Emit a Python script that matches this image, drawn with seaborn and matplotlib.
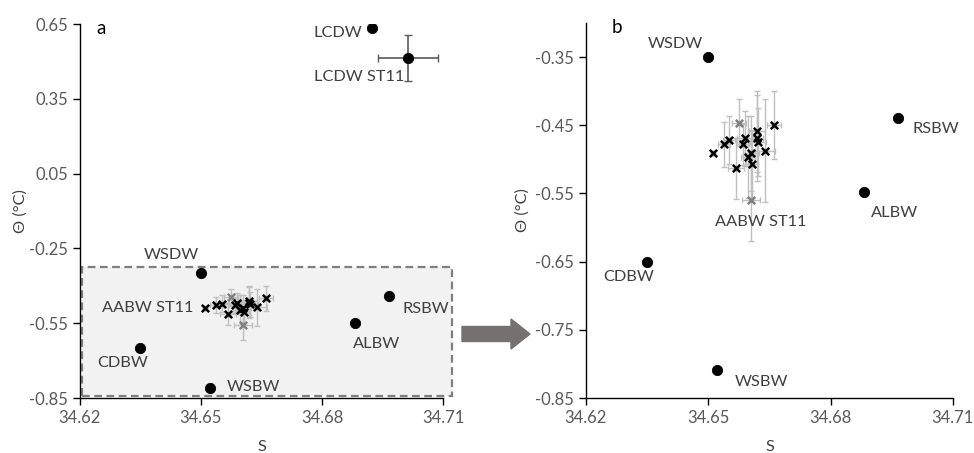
import numpy as np
import pandas as pd
import matplotlib
matplotlib.use('Agg')
import matplotlib.pyplot as plt
from matplotlib.patches import Rectangle, FancyArrow
import seaborn as sns

# water masses (black dots)
mass_names = ['LCDW', 'WSDW', 'RSBW', 'ALBW', 'CDBW', 'WSBW']
mass_s = [34.6924, 34.6500, 34.6966, 34.6882, 34.6350, 34.6522]
mass_t = [0.635, -0.350, -0.439, -0.548, -0.651, -0.809]

# LCDW at ST11, with error bars
lcdw11_s = [34.7013]
lcdw11_t = [0.514]
lcdw11_serr = [0.0074]
lcdw11_terr = [0.091]

# AABW samples (black crosses)
aabw_s = [34.6511, 34.6538, 34.6551, 34.6568, 34.6585, 34.6590, 34.6597,
          34.6605, 34.6607, 34.6619, 34.6619, 34.6622, 34.6639, 34.6661]
aabw_t = [-0.491, -0.478, -0.472, -0.513, -0.478, -0.469, -0.497,
          -0.491, -0.507, -0.459, -0.468, -0.474, -0.487, -0.450]
aabw_serr = [0.0, 0.0015, 0.0015, 0.0020, 0.0015, 0.0020, 0.0018,
             0.0020, 0.0015, 0.0020, 0.0015, 0.0020, 0.0025, 0.0017]
aabw_terr = [0.0, 0.033, 0.035, 0.045, 0.030, 0.040, 0.060,
             0.055, 0.050, 0.060, 0.063, 0.050, 0.076, 0.050]

# AABW at ST11 (grey crosses)
st11_s = [34.6575, 34.6605]
st11_t = [-0.446, -0.559]
st11_serr = [0.0018, 0.0022]
st11_terr = [0.034, 0.060]

x_ticks = [34.62, 34.65, 34.68, 34.71]
y_ticks_a = [0.65, 0.35, 0.05, -0.25, -0.55, -0.85]
y_ticks_b = [-0.35, -0.45, -0.55, -0.65, -0.75, -0.85]

sns.set_style('ticks')
plt.rcParams['font.family'] = ['Lato', 'DejaVu Sans']
plt.rcParams['axes.unicode_minus'] = False

LABEL_C = '#404040'
TICK_C = '#595959'
ERR_C = '#bfbfbf'
FS = 11.8

fig = plt.figure(figsize=(9.74, 4.53), dpi=100)
ax_a = fig.add_axes([0.0821, 0.1214, 0.3727, 0.8256])
ax_b = fig.add_axes([0.6016, 0.1214, 0.3768, 0.8278])


def draw_points(ax):
    # 误差线
    ax.errorbar(aabw_s, aabw_t, xerr=aabw_serr, yerr=aabw_terr, fmt='none',
                ecolor=ERR_C, elinewidth=1, capsize=2.5, zorder=1)
    ax.errorbar(st11_s, st11_t, xerr=st11_serr, yerr=st11_terr, fmt='none',
                ecolor=ERR_C, elinewidth=1, capsize=2.5, zorder=1)
    ax.errorbar(lcdw11_s, lcdw11_t, xerr=lcdw11_serr, yerr=lcdw11_terr, fmt='none',
                ecolor='#595959', elinewidth=1.2, capsize=3, zorder=1)
    sns.scatterplot(x=st11_s, y=st11_t, marker='x', color='#808080', s=28,
                    linewidth=1.8, ax=ax, zorder=3)
    sns.scatterplot(x=aabw_s, y=aabw_t, marker='x', color='black', s=28,
                    linewidth=1.8, ax=ax, zorder=4)
    sns.scatterplot(x=mass_s + lcdw11_s, y=mass_t + lcdw11_t, marker='o',
                    color='black', edgecolor='black', s=55, ax=ax, zorder=5)


def style_axis(ax, yticks, ylim, letter, lx, letter_x):
    ax.set_xlim(34.62, 34.71)
    ax.set_ylim(*ylim)
    ax.set_xticks(x_ticks)
    ax.set_xticklabels([f'{v:.2f}' for v in x_ticks])
    ax.set_yticks(yticks)
    ax.set_yticklabels([f'{v:.2f}' for v in yticks])
    ax.tick_params(colors='black', labelcolor=TICK_C, labelsize=12,
                   length=5, width=1, direction='out')
    for side in ['top', 'right']:
        ax.spines[side].set_visible(False)
    for side in ['left', 'bottom']:
        ax.spines[side].set_color('black')
        ax.spines[side].set_linewidth(1)
    ax.set_xlabel('S', fontsize=FS, color=LABEL_C)
    ax.set_ylabel('Θ (°C)', fontsize=FS, color=LABEL_C)
    ax.xaxis.set_label_coords(0.5, -0.113)
    ax.yaxis.set_label_coords(lx, 0.5)
    ax.text(letter_x, 0.988, letter, transform=ax.transAxes,
            fontsize=13.5, color='black', ha='center', va='center')


def label(ax, name, x, y, dx, dy, ha='center'):
    ax.annotate(name, xy=(x, y), xytext=(dx, dy), textcoords='offset pixels',
                ha=ha, va='center', fontsize=FS, color=LABEL_C, zorder=6)


# ---- panel a ----
ax_a.add_patch(Rectangle((34.6204, -0.841), 0.0918, 0.516, facecolor='#f2f2f2',
                         edgecolor='#7f7f7f', linestyle=(0, (3.5, 2)), linewidth=1.6,
                         clip_on=False, zorder=0))
draw_points(ax_a)
style_axis(ax_a, y_ticks_a, (-0.85, 0.65), 'a', -0.143, 0.058)

m = dict(zip(mass_names, zip(mass_s, mass_t)))
label(ax_a, 'LCDW', *m['LCDW'], -10, -5, ha='right')
label(ax_a, 'LCDW ST11', lcdw11_s[0], lcdw11_t[0], -4, -19, ha='right')
label(ax_a, 'WSDW', *m['WSDW'], -30, 18)
label(ax_a, 'AABW ST11', aabw_s[0], aabw_t[0], -12, 0, ha='right')
label(ax_a, 'RSBW', *m['RSBW'], 14, -13, ha='left')
label(ax_a, 'ALBW', *m['ALBW'], 22, -21)
label(ax_a, 'CDBW', *m['CDBW'], -18, -15)
label(ax_a, 'WSBW', *m['WSBW'], 17, 1, ha='left')

# ---- panel b ----
draw_points(ax_b)
style_axis(ax_b, y_ticks_b, (-0.85, -0.30), 'b', -0.153, 0.084)
label(ax_b, 'WSDW', *m['WSDW'], -33, 13)
label(ax_b, 'RSBW', *m['RSBW'], 14, -11, ha='left')
label(ax_b, 'ALBW', *m['ALBW'], 31, -21)
label(ax_b, 'AABW ST11', st11_s[1], st11_t[1], 10, -22)
label(ax_b, 'CDBW', *m['CDBW'], -18, -15)
label(ax_b, 'WSBW', *m['WSBW'], 17, -12, ha='left')

# arrow between panels
fig.patches.append(FancyArrow(4.62, 1.19, 0.68, 0, width=0.15, head_width=0.30,
                              head_length=0.19, length_includes_head=True,
                              color='#767171', transform=fig.dpi_scale_trans,
                              figure=fig))

fig.savefig('out.png', dpi=100)
